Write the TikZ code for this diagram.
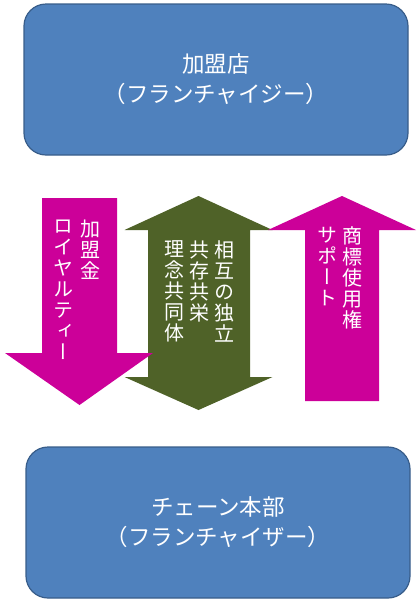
\documentclass[tikz,border=0pt]{standalone}
\usepackage{fontspec}
\usetikzlibrary{positioning}
\newfontfamily\cjk{Noto Sans CJK JP}
\newfontfamily\tate[RawFeature=+vert]{Noto Sans CJK JP}
\definecolor{boxblue}{HTML}{4F81BD}
\definecolor{boxline}{HTML}{385D8A}
\definecolor{fuchsia}{HTML}{CC0099}
\definecolor{arrowolive}{HTML}{4F6228}
\tikzset{
  party/.style = {rectangle, draw=boxline, line width=1.2pt, fill=boxblue,
                  rounded corners=22pt, minimum width=384pt, minimum height=151pt,
                  text=white, align=center, font=\cjk\fontsize{22.5}{30}\selectfont},
  col/.style = {text=white, align=center, anchor=north, inner sep=0pt,
                font=\tate\fontsize{20}{21}\selectfont},
  royalty/.style = {fill=fuchsia},
  mutual/.style = {fill=arrowolive}
}

\begin{document}
\begin{tikzpicture}
    [x=1pt, y=-1pt]
    \useasboundingbox (0,0) rectangle (420,606);

    %% Franchisee / headquarters
    \node [party] (franchisee) at (216,79.5) {加盟店\\（フランチャイジー）};
    \node [party] (hq) at (218,522.5) {チェーン本部\\（フランチャイザー）};

    %% Arrows
    \fill [mutual] (148,230) -- (124.5,230) -- (198.5,196) -- (272.5,230) -- (250,230)
        -- (250,377) -- (272.5,377) -- (198.5,410) -- (124.5,377) -- (148,377) -- cycle;
    \fill [royalty] (42,198) -- (117,198) -- (117,353) -- (153,353) -- (79.5,405)
        -- (5,353) -- (42,353) -- cycle;
    \fill [royalty] (305,401) -- (305,230) -- (268,230) -- (342,196) -- (416,230)
        -- (379,230) -- (379,401) -- cycle;

    %% Vertical labels
    \node [col] (fee) at (90,220) {加\\盟\\金};
    \node [col] (royaltyfee) at (63.5,220) {ロ\\イ\\ヤ\\ル\\テ\\ィ\\ー};
    \node [col] (independence) at (224,240.5) {相\\互\\の\\独\\立};
    \node [col] (coexist) at (199,240.5) {共\\存\\共\\栄};
    \node [col] (ideal) at (174,240.5) {理\\念\\共\\同\\体};
    \node [col] (trademark) at (352,226.5) {商\\標\\使\\用\\権};
    \node [col] (support) at (327,226.5) {サ\\ポ\\ー\\ト};

\end{tikzpicture}
\end{document}
